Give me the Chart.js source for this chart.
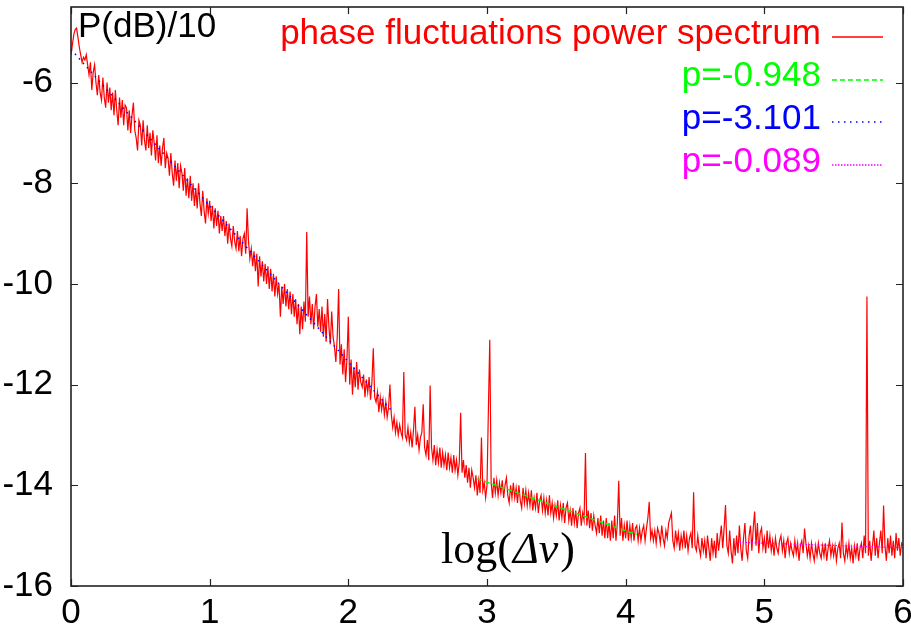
<!DOCTYPE html>
<html lang="en">
<head>
<meta charset="UTF-8">
<title>Phase fluctuations power spectrum</title>
<script src="https://cdn.jsdelivr.net/npm/chart.js"></script>
<style>
  body { margin: 0; background: #fff; }
  #grafico { display: block; }
</style>
</head>
<body>
<canvas id="grafico" width="911" height="626"></canvas>
<script>
  // measured spectrum, log(dnu) 0.00 .. 2.99 every 0.01
  const lowStart = 0, lowStep = 0.01;
  const spectrumLow = [
    -5.45, -5.25, -5.05, -4.95, -4.92, -5.10, -5.30, -5.45, -5.60, -5.50,
    -5.55, -5.45, -5.65, -5.85, -5.60, -6.15, -5.80, -5.65, -6.00, -6.25,
    -5.85, -6.20, -6.35, -5.90, -6.30, -6.50, -6.00, -6.40, -6.10, -6.55,
    -6.20, -6.65, -6.15, -6.55, -6.85, -6.30, -6.70, -6.35, -6.85, -6.45,
    -6.50, -6.95, -6.55, -7.00, -6.65, -6.40, -6.95, -7.10, -7.35, -6.75,
    -6.85, -7.25, -6.75, -7.15, -7.35, -6.85, -7.30, -7.00, -7.45, -6.95,
    -7.20, -7.55, -7.05, -7.60, -7.25, -7.65, -7.30, -7.10, -7.70, -7.40,
    -7.50, -7.85, -7.40, -7.80, -8.05, -7.55, -7.95, -7.60, -8.10, -7.65,
    -7.80, -8.15, -7.70, -8.25, -7.90, -8.30, -7.85, -8.35, -8.00, -8.45,
    -8.10, -8.50, -8.00, -8.40, -8.65, -8.15, -8.55, -8.80, -8.30, -8.60,
    -8.35, -8.75, -8.45, -8.90, -8.50, -8.85, -8.55, -9.00, -8.65, -8.95,
    -8.65, -9.05, -8.75, -9.20, -8.80, -9.10, -9.25, -8.85, -9.15, -9.30,
    -8.95, -9.35, -9.05, -9.45, -9.10, -9.00, -9.40, -8.50, -9.15, -9.50,
    -9.30, -9.65, -9.35, -9.75, -9.40, -10.05, -9.45, -9.85, -9.55, -9.95,
    -9.60, -10.00, -9.65, -10.10, -9.70, -10.15, -9.80, -10.25, -9.85, -10.20,
    -10.00, -10.65, -10.05, -10.40, -10.00, -10.45, -10.10, -10.50, -10.15, -10.60,
    -10.20, -10.65, -10.30, -10.80, -10.40, -11.00, -10.45, -10.90, -10.35, -10.75,
    -8.97, -10.65, -10.25, -10.80, -10.40, -10.90, -10.45, -10.20, -10.85, -10.50,
    -10.95, -10.45, -11.05, -10.60, -11.15, -10.30, -10.85, -11.20, -10.55, -11.05,
    -11.25, -11.55, -11.05, -10.10, -11.60, -11.20, -11.80, -11.30, -11.95, -11.50,
    -10.65, -12.00, -11.50, -12.20, -11.65, -12.05, -11.55, -12.10, -11.70, -11.95,
    -12.05, -11.80, -12.25, -11.90, -12.15, -11.85, -12.30, -11.95, -11.28, -12.25,
    -12.35, -12.15, -12.55, -12.25, -12.50, -12.30, -12.60, -12.35, -12.65, -12.45,
    -12.00, -12.60, -12.85, -12.65, -12.95, -12.75, -13.00, -12.80, -12.95, -13.05,
    -11.75, -13.00, -13.10, -12.85, -13.15, -12.95, -13.25, -12.90, -12.44, -13.20,
    -13.00, -13.30, -13.05, -12.95, -12.39, -13.25, -13.40, -13.10, -13.50, -12.02,
    -13.25, -13.50, -13.20, -13.60, -13.30, -13.55, -13.25, -13.65, -13.35, -13.60,
    -13.40, -13.70, -13.35, -13.65, -13.45, -13.75, -13.40, -13.70, -13.50, -13.80,
    -13.55, -12.56, -13.75, -13.50, -13.85, -13.60, -13.95, -13.65, -14.05, -13.70,
    -13.85, -14.05, -13.80, -14.20, -13.90, -14.15, -13.05, -14.10, -13.95, -14.25
  ];
  // measured spectrum, log(dnu) 3.00 .. 6.00 every 0.01
  const highStart = 3, highStep = 0.01;
  const spectrumHigh = [
    -14.00, -12.50, -11.11, -13.95, -14.25, -13.85, -14.15, -13.90, -14.20, -13.95,
    -14.15, -13.90, -14.25, -14.00, -13.85, -14.20, -14.35, -14.00, -14.25, -13.95,
    -14.25, -14.05, -14.35, -14.00, -14.30, -14.45, -14.05, -14.35, -14.10, -14.40,
    -14.15, -14.40, -14.10, -14.50, -14.25, -14.45, -14.15, -14.55, -14.30, -14.20,
    -14.50, -14.25, -14.55, -14.30, -14.60, -14.20, -14.55, -14.35, -14.65, -14.40,
    -14.60, -14.30, -14.70, -14.40, -14.65, -14.35, -14.75, -14.45, -14.35, -14.70,
    -14.50, -14.80, -14.45, -14.75, -14.50, -14.85, -14.55, -14.45, -14.80, -14.55,
    -14.70, -13.36, -14.80, -14.50, -14.85, -14.55, -14.90, -14.60, -14.80, -14.95,
    -14.65, -14.95, -14.60, -15.00, -14.70, -15.05, -14.65, -15.05, -14.75, -15.10,
    -14.70, -15.05, -14.60, -15.10, -14.75, -13.91, -15.00, -14.65, -15.10, -14.80,
    -15.05, -14.70, -15.10, -14.80, -15.05, -14.75, -15.10, -14.85, -14.80, -15.10,
    -14.85, -15.10, -14.90, -14.80, -15.10, -14.85, -14.65, -14.33, -15.05, -14.90,
    -15.10, -14.90, -15.15, -14.85, -14.95, -15.15, -14.80, -15.05, -15.20, -14.90,
    -15.05, -14.75, -14.65, -14.55, -15.10, -15.25, -14.90, -15.15, -14.95, -15.30,
    -15.00, -15.20, -14.90, -15.25, -15.00, -15.30, -15.05, -14.95, -15.25, -14.14,
    -15.20, -15.30, -15.00, -15.25, -15.40, -15.05, -15.30, -15.10, -15.45, -15.00,
    -15.25, -15.50, -15.05, -15.35, -15.10, -15.45, -14.95, -15.30, -15.05, -14.80,
    -15.25, -14.85, -14.39, -15.20, -15.35, -14.90, -15.30, -15.55, -15.05, -15.40,
    -15.00, -15.35, -14.80, -15.25, -15.50, -15.05, -14.75, -15.30, -15.45, -15.00,
    -14.80, -15.30, -14.85, -14.52, -15.20, -14.75, -15.35, -14.95, -14.85, -15.25,
    -15.05, -15.35, -14.90, -15.25, -15.00, -15.30, -15.10, -15.40, -15.05, -15.25,
    -15.35, -15.10, -15.00, -15.30, -15.10, -15.45, -15.15, -15.05, -15.35, -15.15,
    -15.30, -15.40, -15.10, -15.35, -15.15, -15.50, -15.20, -15.10, -15.35, -14.86,
    -15.15, -15.40, -15.20, -15.45, -15.15, -15.35, -15.50, -15.20, -15.40, -15.15,
    -15.35, -15.45, -15.20, -15.40, -15.15, -15.50, -15.25, -15.10, -15.40, -15.20,
    -15.40, -15.20, -15.50, -15.25, -15.15, -15.45, -14.74, -15.35, -15.50, -15.20,
    -15.40, -15.15, -15.45, -15.25, -15.55, -15.20, -15.40, -15.15, -15.50, -15.25,
    -15.15, -15.45, -15.00, -15.35, -10.25, -15.40, -15.10, -15.50, -15.20, -14.90,
    -15.40, -15.05, -15.45, -15.15, -14.90, -15.35, -14.40, -15.20, -15.50, -15.05,
    -15.35, -15.00, -15.40, -15.10, -15.45, -14.95, -15.30, -15.05, -15.40, -15.15,
    -15.20
  ];

  // fitted power laws (end points)
  const fitGreenX = [2.93, 4.08];
  const fitGreenY = [-13.87, -14.98];
  const fitBlueX = [0, 2.31];
  const fitBlueY = [-5.34, -12.51];
  const fitMagentaX = [4.80, 6.00];
  const fitMagentaY = [-15.13, -15.24];

  const xTicks = [0, 1, 2, 3, 4, 5, 6];
  const yTicks = [-16, -14, -12, -10, -8, -6];

  const fonte = '35px "Liberation Sans", Arial, sans-serif';

  function montarSerie(inicio, passo, valores) {
    return valores.map(function (v, i) {
      return { x: +(inicio + i * passo).toFixed(2), y: v };
    });
  }
  function montarPares(xs, ys) {
    return xs.map(function (x, i) { return { x: x, y: ys[i] }; });
  }

  var espectro = montarSerie(lowStart, lowStep, spectrumLow)
    .concat(montarSerie(highStart, highStep, spectrumHigh));

  // frame, inward ticks, legend and axis texts, gnuplot style
  const moldura = {
    id: 'moldura',
    afterDatasetsDraw(chart) {
      const ctx = chart.ctx;
      const a = chart.chartArea;
      const sx = chart.scales.x, sy = chart.scales.y;
      const tl = 7;
      ctx.save();
      ctx.strokeStyle = '#222';
      ctx.lineWidth = 1.2;
      ctx.beginPath();
      xTicks.forEach(function (v) {
        const px = Math.round(sx.getPixelForValue(v)) + 0.5;
        ctx.moveTo(px, a.bottom); ctx.lineTo(px, a.bottom - tl);
        ctx.moveTo(px, a.top); ctx.lineTo(px, a.top + tl);
      });
      yTicks.forEach(function (v) {
        const py = Math.round(sy.getPixelForValue(v)) + 0.5;
        ctx.moveTo(a.left, py); ctx.lineTo(a.left + tl, py);
        ctx.moveTo(a.right, py); ctx.lineTo(a.right - tl, py);
      });
      ctx.stroke();
      ctx.lineWidth = 1.6;
      ctx.strokeRect(a.left, a.top, a.right - a.left, a.bottom - a.top);
      ctx.restore();
    },
    afterDraw(chart) {
      const ctx = chart.ctx;
      ctx.save();
      ctx.font = fonte;
      ctx.textBaseline = 'alphabetic';
      ctx.fillStyle = '#000';
      ctx.textAlign = 'left';
      ctx.fillText('P(dB)/10', 78, 37);

      // legend: text right aligned, sample to the right
      ctx.textAlign = 'right';
      chart.data.datasets.forEach(function (ds, i) {
        const yl = 37 + i * 42.7;
        ctx.fillStyle = ds.borderColor;
        ctx.fillText(ds.label, 821, yl + 6.5);
        ctx.strokeStyle = ds.borderColor;
        ctx.lineWidth = 1.5;
        ctx.setLineDash(ds.borderDash || []);
        ctx.beginPath();
        ctx.moveTo(832, Math.round(yl));
        ctx.lineTo(883, Math.round(yl));
        ctx.stroke();
        ctx.setLineDash([]);
      });

      // x axis title inside the plot
      ctx.fillStyle = '#000';
      ctx.textAlign = 'left';
      let x = 441;
      const y = 563;
      ctx.font = '44px "Liberation Serif", "Times New Roman", serif';
      ctx.fillText('log(', x, y);
      x += ctx.measureText('log(').width + 1;
      ctx.font = 'italic 44px "Liberation Serif", "Times New Roman", serif';
      ctx.fillText('\u0394\u03BD', x, y);
      x += ctx.measureText('\u0394\u03BD').width + 2;
      ctx.font = '44px "Liberation Serif", "Times New Roman", serif';
      ctx.fillText(')', x, y);
      ctx.restore();
    }
  };

  new Chart(document.getElementById('grafico'), {
    type: 'line',
    data: {
      datasets: [
        {
          label: 'phase fluctuations power spectrum',
          data: espectro,
          borderColor: '#ff0000',
          borderWidth: 1.2,
          pointRadius: 0,
          tension: 0,
          order: 1
        },
        {
          label: 'p=-0.948',
          data: montarPares(fitGreenX, fitGreenY),
          borderColor: '#00ff00',
          borderWidth: 1.5,
          borderDash: [5, 3],
          pointRadius: 0,
          order: 0
        },
        {
          label: 'p=-3.101',
          data: montarPares(fitBlueX, fitBlueY),
          borderColor: '#0000ff',
          borderWidth: 1.5,
          borderDash: [1.5, 4.5],
          pointRadius: 0,
          order: 0
        },
        {
          label: 'p=-0.089',
          data: montarPares(fitMagentaX, fitMagentaY),
          borderColor: '#ff00ff',
          borderWidth: 1.2,
          borderDash: [1.5, 1.5],
          pointRadius: 0,
          order: 0
        }
      ]
    },
    options: {
      responsive: false,
      animation: false,
      events: [],
      layout: { padding: { top: 7, right: 8, left: 0, bottom: 0 } },
      plugins: {
        legend: { display: false },
        tooltip: { enabled: false }
      },
      scales: {
        x: {
          type: 'linear',
          min: 0,
          max: 6,
          grid: { display: false },
          border: { display: false },
          afterBuildTicks: function (scale) {
            scale.ticks = xTicks.map(function (v) { return { value: v }; });
          },
          ticks: {
            color: '#000',
            padding: -2,
            maxRotation: 0,
            autoSkip: false,
            font: { family: '"Liberation Sans", Arial, sans-serif', size: 35 },
            callback: function (v) { return String(v); }
          },
          afterFit: function (scale) {
            scale.height = 40;
            scale.paddingLeft = 0;
            scale.paddingRight = 0;
          }
        },
        y: {
          type: 'linear',
          min: -16,
          max: -4.5,
          grid: { display: false },
          border: { display: false },
          afterBuildTicks: function (scale) {
            scale.ticks = yTicks.map(function (v) { return { value: v }; });
          },
          ticks: {
            color: '#000',
            padding: 10,
            autoSkip: false,
            font: { family: '"Liberation Sans", Arial, sans-serif', size: 35 },
            callback: function (v) { return String(v); }
          },
          afterFit: function (scale) {
            scale.width = 71;
            scale.paddingTop = 0;
            scale.paddingBottom = 0;
          }
        }
      }
    },
    plugins: [moldura]
  });
</script>
</body>
</html>
